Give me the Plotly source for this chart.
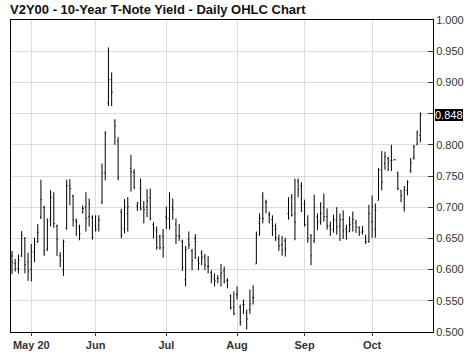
import plotly.graph_objects as go

# ---- data -------------------------------------------------------------
trading_days = {
    "2020-04": [23, 24, 27, 28, 29, 30],
    "2020-05": [1, 4, 5, 6, 7, 8, 11, 12, 13, 14, 15, 18, 19, 20, 21, 22, 26, 27, 28, 29],
    "2020-06": [1, 2, 3, 4, 5, 8, 9, 10, 11, 12, 15, 16, 17, 18, 19, 22, 23, 24, 25, 26, 29, 30],
    "2020-07": [1, 2, 6, 7, 8, 9, 10, 13, 14, 15, 16, 17, 20, 21, 22, 23, 24, 27, 28, 29, 30, 31],
    "2020-08": [3, 4, 5, 6, 7, 10, 11, 12, 13, 14, 17, 18, 19, 20, 21, 24, 25, 26, 27, 28, 31],
    "2020-09": [1, 2, 3, 4, 8, 9, 10, 11, 14, 15, 16, 17, 18, 21, 22, 23, 24, 25, 28, 29, 30],
    "2020-10": [1, 2, 5, 6, 7, 8, 9, 12, 13, 14, 15, 16, 19, 20, 21, 22],
}
dates = [f"{m}-{d:02d}" for m, days in trading_days.items() for d in days]

opens = [
    0.622, 0.610, 0.602, 0.622, 0.650, 0.612, 0.600, 0.628, 0.645, 0.684,
    0.700, 0.633, 0.680, 0.714, 0.670, 0.622, 0.600, 0.666, 0.735, 0.718,
    0.678, 0.668, 0.692, 0.700, 0.685, 0.684, 0.670, 0.670, 0.708, 0.755,
    0.867, 0.905, 0.838, 0.806, 0.692, 0.665, 0.690, 0.762, 0.756, 0.702,
    0.730, 0.700, 0.700, 0.715, 0.672, 0.662, 0.653, 0.653, 0.685, 0.682,
    0.700, 0.673, 0.654, 0.645, 0.584, 0.648, 0.630, 0.650, 0.615, 0.627,
    0.620, 0.605, 0.595, 0.585, 0.586, 0.590, 0.598, 0.583, 0.558, 0.540,
    0.560, 0.540, 0.544, 0.530, 0.536, 0.555, 0.609, 0.674, 0.716, 0.708,
    0.688, 0.680, 0.665, 0.649, 0.640, 0.646, 0.690, 0.716, 0.690, 0.742,
    0.734, 0.705, 0.673, 0.654, 0.646, 0.685, 0.678, 0.700, 0.685, 0.670,
    0.665, 0.678, 0.670, 0.680, 0.665, 0.662, 0.675, 0.675, 0.668, 0.660,
    0.652, 0.645, 0.677, 0.665, 0.711, 0.760, 0.770, 0.778, 0.775, 0.776,
    0.755, 0.727, 0.699, 0.727, 0.759, 0.779, 0.800, 0.815,
]
highs = [
    0.630, 0.617, 0.624, 0.662, 0.652, 0.627, 0.641, 0.651, 0.673, 0.744,
    0.702, 0.682, 0.727, 0.724, 0.672, 0.628, 0.648, 0.744, 0.745, 0.720,
    0.682, 0.672, 0.703, 0.724, 0.714, 0.687, 0.687, 0.687, 0.770, 0.822,
    0.956, 0.916, 0.841, 0.812, 0.697, 0.713, 0.716, 0.784, 0.761, 0.708,
    0.746, 0.710, 0.729, 0.730, 0.676, 0.669, 0.656, 0.665, 0.701, 0.724,
    0.714, 0.682, 0.673, 0.648, 0.638, 0.661, 0.633, 0.657, 0.621, 0.631,
    0.625, 0.622, 0.599, 0.594, 0.591, 0.609, 0.605, 0.586, 0.560, 0.565,
    0.573, 0.544, 0.552, 0.536, 0.568, 0.575, 0.661, 0.690, 0.724, 0.712,
    0.693, 0.687, 0.674, 0.656, 0.654, 0.651, 0.716, 0.721, 0.746, 0.746,
    0.740, 0.712, 0.687, 0.657, 0.720, 0.690, 0.708, 0.722, 0.698, 0.677,
    0.688, 0.700, 0.690, 0.695, 0.672, 0.685, 0.693, 0.680, 0.669, 0.670,
    0.656, 0.704, 0.719, 0.706, 0.763, 0.790, 0.789, 0.781, 0.800, 0.777,
    0.757, 0.727, 0.734, 0.743, 0.779, 0.800, 0.823, 0.852,
]
lows = [
    0.593, 0.597, 0.594, 0.620, 0.594, 0.582, 0.581, 0.612, 0.643, 0.681,
    0.622, 0.630, 0.669, 0.667, 0.622, 0.604, 0.590, 0.664, 0.703, 0.669,
    0.654, 0.647, 0.690, 0.661, 0.669, 0.648, 0.661, 0.661, 0.705, 0.743,
    0.862, 0.862, 0.800, 0.743, 0.650, 0.658, 0.661, 0.725, 0.729, 0.694,
    0.695, 0.674, 0.684, 0.679, 0.650, 0.632, 0.632, 0.619, 0.665, 0.664,
    0.680, 0.641, 0.646, 0.598, 0.573, 0.633, 0.599, 0.617, 0.599, 0.607,
    0.599, 0.594, 0.578, 0.573, 0.578, 0.573, 0.578, 0.570, 0.536, 0.527,
    0.552, 0.510, 0.529, 0.504, 0.529, 0.544, 0.609, 0.654, 0.674, 0.690,
    0.674, 0.654, 0.646, 0.630, 0.622, 0.621, 0.680, 0.685, 0.647, 0.716,
    0.693, 0.669, 0.643, 0.607, 0.643, 0.663, 0.672, 0.677, 0.664, 0.654,
    0.659, 0.656, 0.646, 0.649, 0.648, 0.660, 0.661, 0.659, 0.654, 0.656,
    0.641, 0.643, 0.651, 0.651, 0.711, 0.727, 0.760, 0.758, 0.758, 0.776,
    0.727, 0.708, 0.693, 0.719, 0.755, 0.776, 0.800, 0.804,
]
closes = [
    0.612, 0.600, 0.615, 0.655, 0.608, 0.598, 0.628, 0.640, 0.660, 0.712,
    0.630, 0.677, 0.716, 0.674, 0.648, 0.615, 0.645, 0.734, 0.730, 0.680,
    0.676, 0.657, 0.698, 0.682, 0.705, 0.652, 0.665, 0.680, 0.755, 0.818,
    0.904, 0.884, 0.830, 0.748, 0.655, 0.700, 0.701, 0.757, 0.732, 0.707,
    0.697, 0.696, 0.710, 0.682, 0.666, 0.635, 0.635, 0.635, 0.682, 0.669,
    0.696, 0.654, 0.653, 0.604, 0.632, 0.640, 0.615, 0.645, 0.610, 0.620,
    0.607, 0.605, 0.589, 0.582, 0.586, 0.595, 0.581, 0.583, 0.539, 0.529,
    0.561, 0.516, 0.544, 0.521, 0.545, 0.555, 0.656, 0.682, 0.682, 0.708,
    0.688, 0.670, 0.651, 0.638, 0.631, 0.633, 0.683, 0.687, 0.676, 0.729,
    0.693, 0.672, 0.650, 0.622, 0.700, 0.675, 0.690, 0.685, 0.670, 0.665,
    0.680, 0.668, 0.680, 0.662, 0.660, 0.672, 0.680, 0.668, 0.660, 0.662,
    0.645, 0.690, 0.701, 0.695, 0.760, 0.740, 0.781, 0.772, 0.775, 0.776,
    0.730, 0.719, 0.727, 0.740, 0.771, 0.797, 0.819, 0.848,
]

tick_dates = ["2020-05-01", "2020-06-01", "2020-07-01", "2020-08-03", "2020-09-01", "2020-10-01"]
tick_labels = ["May 20", "Jun", "Jul", "Aug", "Sep", "Oct"]

y_tick_values = [0.50, 0.55, 0.60, 0.65, 0.70, 0.75, 0.80, 0.85, 0.90, 0.95, 1.00]
# 0.850 sits under the last-price box in the reference, so its label is left empty
y_tick_labels = ["0.500", "0.550", "0.600", "0.650", "0.700", "0.750",
                 "0.800", "", "0.900", "0.950", "1.000"]

title_text = "V2Y00 - 10-Year T-Note Yield - Daily OHLC Chart"

# ---- figure -----------------------------------------------------------
FONT = "Arial, Liberation Sans, Helvetica, sans-serif"

fig = go.Figure(
    go.Ohlc(
        x=dates, open=opens, high=highs, low=lows, close=closes,
        increasing=dict(line=dict(color="#000000", width=1)),
        decreasing=dict(line=dict(color="#000000", width=1)),
        tickwidth=0.3,
    )
)

W, H = 474, 361
fig.update_layout(
    width=W, height=H,
    margin=dict(l=10, r=41, t=20, b=21),
    paper_bgcolor="white", plot_bgcolor="white",
    showlegend=False,
    font=dict(family=FONT, size=11, color="#333333"),
    title=dict(
        text=f"<b>{title_text}</b>",
        x=10 / W, xanchor="left", xref="container",
        y=1 - 9.5 / H, yanchor="middle", yref="container",
        font=dict(family=FONT, size=13, color="#111111"),
    ),
    xaxis=dict(
        type="category",
        rangeslider=dict(visible=False),
        range=[-0.31, len(dates) - 1 + 3.94],
        tickmode="array", tickvals=tick_dates, ticktext=tick_labels,
        tickfont=dict(family=FONT, size=11, color="#333333", weight="bold"),
        showgrid=True, gridcolor="#dcdcdc", gridwidth=1,
        ticks="outside", ticklen=3, tickcolor="#333333",
        showline=True, linecolor="#000000", linewidth=1, mirror=True,
        zeroline=False,
    ),
    yaxis=dict(
        side="right",
        range=[0.5, 1.0],
        tickmode="array", tickvals=y_tick_values, ticktext=y_tick_labels,
        showgrid=True, gridcolor="#dcdcdc", gridwidth=1,
        ticks="inside", ticklen=5, tickcolor="#333333",
        showline=True, linecolor="#000000", linewidth=1, mirror=True,
        zeroline=False,
        tickfont=dict(family=FONT, size=11, color="#333333"),
    ),
)

last = closes[-1]
fig.add_annotation(
    x=1, xref="paper", xanchor="left", xshift=2,
    y=last, yref="y", yanchor="middle",
    text=f"{last:.3f}", showarrow=False,
    bgcolor="#000000", borderpad=0, borderwidth=0,
    font=dict(family=FONT, size=11, color="#ffffff"),
)

# remove the browser's default page margin so the 474x361 figure fills the window
fig.write_html(
    "out.html",
    config={"displayModeBar": False},
    post_script="document.body.style.margin='0';document.body.style.overflow='hidden';",
)
